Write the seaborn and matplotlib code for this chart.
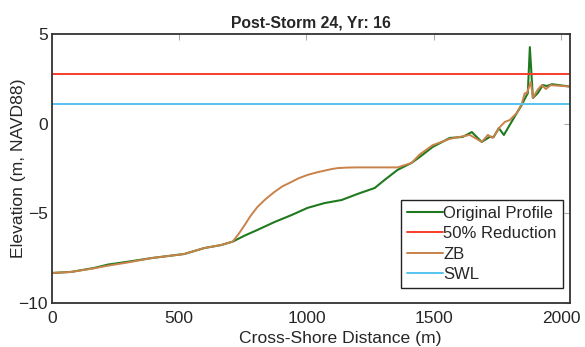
import matplotlib
matplotlib.use("Agg")
from matplotlib import pyplot as plt
import pandas as pd
import seaborn as sns

sns.set_style("white")
plt.rcParams["font.family"] = ["Liberation Sans", "DejaVu Sans"]

# Original profile (cross-shore distance, elevation)
orig_x = [0, 75, 165, 220, 299, 390, 520, 598, 665, 710, 756, 807, 874, 941, 1004,
          1071, 1138, 1201, 1268, 1307, 1358, 1413, 1445, 1496, 1563, 1614, 1650,
          1661, 1689, 1720, 1736, 1756, 1776, 1799, 1827, 1846, 1862, 1870, 1878,
          1890, 1909, 1929, 1945, 1965, 2035]
orig_y = [-8.33, -8.27, -8.05, -7.86, -7.70, -7.50, -7.27, -6.94, -6.77, -6.58, -6.25,
          -5.93, -5.49, -5.10, -4.70, -4.43, -4.26, -3.92, -3.59, -3.14, -2.58, -2.19,
          -1.86, -1.30, -0.80, -0.74, -0.47, -0.63, -1.02, -0.74, -0.74, -0.25, -0.63,
          -0.07, 0.60, 1.04, 1.49, 1.70, 4.27, 1.43, 1.70, 2.15, 2.10, 2.20, 2.07]

# ZB profile
zb_x = [0, 75, 165, 220, 299, 390, 520, 598, 665, 710, 732, 756, 780, 807, 840,
        874, 905, 941, 970, 1004, 1040, 1071, 1100, 1122, 1160, 1201, 1358, 1413,
        1445, 1496, 1563, 1642, 1689, 1713, 1732, 1760, 1780, 1799, 1827, 1846,
        1858, 1866, 1882, 1890, 1909, 1925, 1941, 1960, 2035]
zb_y = [-8.33, -8.27, -8.07, -7.92, -7.74, -7.50, -7.27, -6.94, -6.77, -6.58, -6.18,
        -5.68, -5.15, -4.65, -4.20, -3.81, -3.50, -3.25, -3.04, -2.86, -2.72, -2.62,
        -2.53, -2.48, -2.45, -2.44, -2.44, -2.19, -1.72, -1.20, -0.85, -0.63, -1.02,
        -0.63, -0.80, -0.19, 0.10, 0.20, 0.60, 1.10, 1.70, 1.70, 2.32, 1.43, 1.90,
        2.15, 1.93, 2.15, 2.07]

reduction_level = 2.75
swl_level = 1.07

orig = pd.DataFrame({"x": orig_x, "y": orig_y})
zb = pd.DataFrame({"x": zb_x, "y": zb_y})

fig = plt.figure(figsize=(5.85, 3.47), dpi=100)
ax = fig.add_axes([0.089, 0.127, 0.885, 0.775])

sns.lineplot(data=orig, x="x", y="y", ax=ax, color="#1f7a1f", lw=1.5,
             label="Original Profile", sort=False)
ax.axhline(reduction_level, color="#f83c2c", lw=1.4, label="50% Reduction")
sns.lineplot(data=zb, x="x", y="y", ax=ax, color="#c8824a", lw=1.4,
             label="ZB", sort=False)
ax.axhline(swl_level, color="#55c3ef", lw=1.4, label="SWL")

ax.set_xlim(0, 2035)
ax.set_ylim(-10, 5)
ax.set_xticks([0, 500, 1000, 1500, 2000])
ax.set_yticks([-10, -5, 0, 5])
ax.tick_params(direction="in", length=4, color="#aaaaaa", labelsize=12.5,
               top=True, right=True, pad=3)
ax.tick_params(axis="x", pad=6)
for s in ax.spines.values():
    s.set_color("#333333")
    s.set_linewidth(1.3)

ax.set_title("Post-Storm 24, Yr: 16", fontsize=11.3, fontweight="bold", pad=5)
ax.set_xlabel("Cross-Shore Distance (m)", fontsize=12.6)
ax.set_ylabel("Elevation (m, NAVD88)", fontsize=12.6)
ax.xaxis.set_label_coords(0.556, -0.105)
ax.yaxis.set_label_coords(-0.05, 0.5)

leg = ax.legend(loc="lower right", bbox_to_anchor=(0.986, 0.056), borderaxespad=0,
                fontsize=12, fancybox=False, framealpha=1, edgecolor="#222222",
                handlelength=2.2, handletextpad=0.0, labelspacing=0.33,
                borderpad=0.35)
leg.get_frame().set_linewidth(1.0)

fig.savefig("out.png", dpi=100)
